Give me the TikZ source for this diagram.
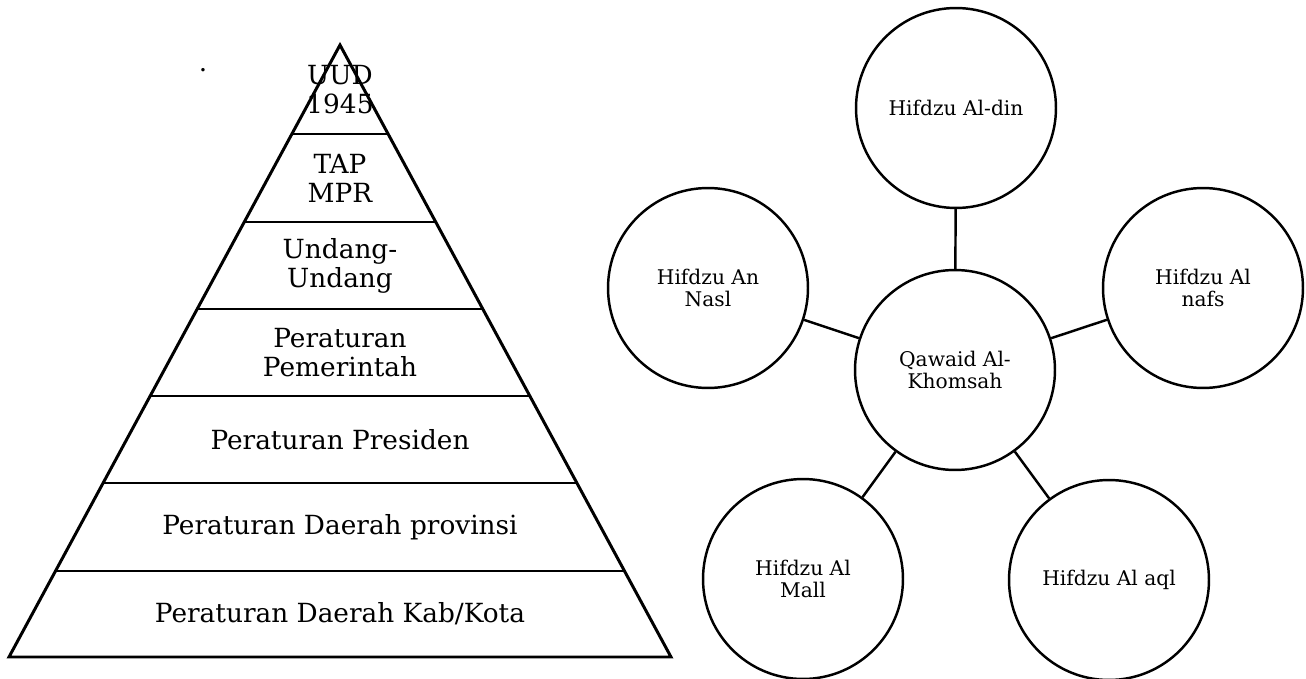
\documentclass[tikz,border=0pt]{standalone}
\usepackage{fontspec}
\setmainfont{DejaVu Serif}
\begin{document}
\begin{tikzpicture}[x=0.02cm, y=-0.02cm,
  tier/.style={line width=1.7pt, line join=miter},
  tierlabel/.style={align=center, inner sep=0pt, font=\fontsize{15}{16.5}\selectfont},
  maqasid/.style={circle, draw, line width=1.4pt, minimum size=4cm, inner sep=0pt,
    align=center, font=\fontsize{11.5}{13}\selectfont},
  link/.style={line width=1.4pt}]
\useasboundingbox (0,0) rectangle (1306,679);
% ---- pyramid (left): outline and tier lines ----
\draw[tier] (340,45) -- (9,657) -- (671,657) -- cycle;
\foreach \y in {134,222,309,396,483,571}
  \draw[tier] ({340-0.541*(\y-45)},\y) -- ({340+0.541*(\y-45)},\y);
% tier labels, top to bottom
\node[tierlabel] (uud)   at (340,89.5)  {UUD\\1945};
\node[tierlabel] (tap)   at (340,178)   {TAP\\MPR};
\node[tierlabel] (uu)    at (340,265.5) {Undang-\\Undang};
\node[tierlabel] (pp)    at (340,352.5) {Peraturan\\Pemerintah};
\node[tierlabel] (perpres) at (340,439.5) {Peraturan Presiden};
\node[tierlabel] (perdaprov) at (340,527) {Peraturan Daerah provinsi};
\node[tierlabel] (perdakab)  at (340,614) {Peraturan Daerah Kab/Kota};
\node[tierlabel] (dot) at (203,70) {.};
% ---- five circles round the centre (right) ----
\node[maqasid] (kaidah) at (955,370)  {Qawaid Al-\\Khomsah};
\node[maqasid] (din)    at (956,108)  {Hifdzu Al-din};
\node[maqasid] (nafs)   at (1203,288) {Hifdzu Al\\nafs};
\node[maqasid] (aql)    at (1109,580) {Hifdzu Al aql};
\node[maqasid] (mall)   at (803,579)  {Hifdzu Al\\Mall};
\node[maqasid] (nasl)   at (708,288)  {Hifdzu An\\Nasl};
\foreach \n in {din,nafs,aql,mall,nasl}
  \draw[link] (kaidah) -- (\n);
\end{tikzpicture}
\end{document}
